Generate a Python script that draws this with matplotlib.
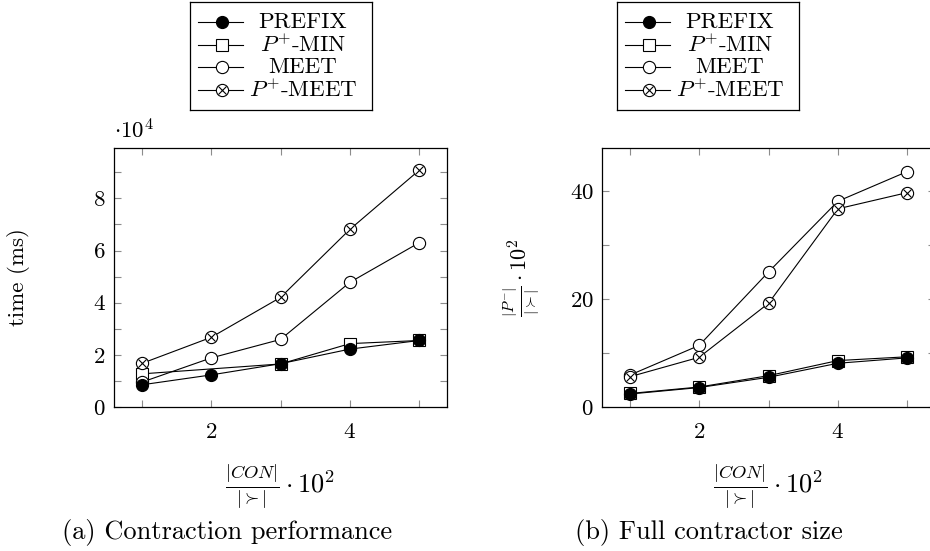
#!/usr/bin/env python3
"""Contraction performance and full contractor size, two panels side by side."""

import matplotlib

matplotlib.use("Agg")
import matplotlib.pyplot as plt
from matplotlib.ticker import FixedLocator, NullFormatter

plt.rcParams["font.family"] = "serif"
plt.rcParams["font.serif"] = ["cmr10"]
plt.rcParams["mathtext.fontset"] = "cm"
plt.rcParams["axes.formatter.use_mathtext"] = True

X = [1, 2, 3, 4, 5]
X_MIN = [1, 3, 4, 5]  # P+-MIN has no point at 2 in panel (a)

# panel (a): time in units of 10^4 ms
TIME_PREFIX = [0.85, 1.23, 1.66, 2.22, 2.55]
TIME_PMIN = [1.27, 1.65, 2.43, 2.55]
TIME_MEET = [0.95, 1.88, 2.59, 4.78, 6.3]
TIME_PMEET = [1.67, 2.67, 4.2, 6.81, 9.08]

# panel (b): |P-|/|>| * 10^2
SIZE_PREFIX = [2.4, 3.6, 5.5, 8.1, 9.1]
SIZE_PMIN = [2.5, 3.7, 5.8, 8.6, 9.3]
SIZE_MEET = [5.9, 11.4, 25.0, 38.1, 43.6]
SIZE_PMEET = [5.6, 9.2, 19.2, 36.7, 39.7]

LABELS = ["PREFIX", "$P^{+}$-MIN", "MEET", "$P^{+}$-MEET"]
KINDS = ["filled", "square", "circle", "otimes"]

FS = 16.5


def draw_series(ax, x, y, kind, zorder):
    common = dict(color="black", lw=0.8, zorder=zorder)
    if kind == "filled":
        ax.plot(x, y, marker="o", ms=8.5, mfc="black", mec="black", **common)
    elif kind == "square":
        ax.plot(x, y, marker="s", ms=8.2, mfc="white", mec="black", mew=0.8, **common)
    elif kind == "circle":
        ax.plot(x, y, marker="o", ms=8.8, mfc="white", mec="black", mew=0.8, **common)
    else:
        ax.plot(x, y, marker="o", ms=8.8, mfc="white", mec="black", mew=0.8, **common)
        ax.plot(x, y, ls="none", marker="x", ms=6.2, mec="black", mew=0.8, zorder=zorder)


def style_axes(ax, ymajor, yminor, ylim):
    ax.set_xlim(0.6, 5.4)
    ax.set_ylim(*ylim)
    ax.xaxis.set_major_locator(FixedLocator([2, 4]))
    ax.xaxis.set_minor_locator(FixedLocator([1, 3, 5]))
    ax.xaxis.set_minor_formatter(NullFormatter())
    ax.yaxis.set_major_locator(FixedLocator(ymajor))
    ax.yaxis.set_minor_locator(FixedLocator(yminor))
    ax.yaxis.set_minor_formatter(NullFormatter())
    ax.tick_params(which="both", direction="in", top=True, right=True, length=5,
                   width=0.8, color="0.55", labelsize=FS, pad=6)
    ax.tick_params(axis="x", which="both", pad=11)
    for sp in ax.spines.values():
        sp.set_linewidth(0.9)


def draw_legend(fig, left_px):
    lax = fig.add_axes([left_px / 930, 1 - 110 / 551, 182 / 930, 108 / 551])
    lax.set_xlim(0, 1)
    lax.set_ylim(3.89, -0.89)
    lax.set_xticks([])
    lax.set_yticks([])
    for sp in lax.spines.values():
        sp.set_linewidth(0.9)
    for i, (lab, kind) in enumerate(zip(LABELS, KINDS)):
        lax.plot([0.044, 0.29], [i, i], color="black", lw=0.8)
        draw_series(lax, [0.176], [i], kind, 3)
        lax.text(0.62, i, lab, ha="center", va="center", fontsize=FS)


fig = plt.figure(figsize=(9.3, 5.51), dpi=100)

ax1 = fig.add_axes([114 / 930, 1 - 407 / 551, 333 / 930, 259 / 551])
draw_series(ax1, X_MIN, TIME_PMIN, "square", 2)
draw_series(ax1, X, TIME_MEET, "circle", 3)
draw_series(ax1, X, TIME_PMEET, "otimes", 4)
draw_series(ax1, X, TIME_PREFIX, "filled", 5)
style_axes(ax1, [0, 2, 4, 6, 8], [1, 3, 5, 7, 9], (0, 9.93))
ax1.set_ylabel("time (ms)", fontsize=FS, labelpad=45)
ax1.text(0.0, 1.02, r"$\cdot 10^4$", transform=ax1.transAxes, fontsize=FS, va="bottom")
ax1.set_xlabel(r"$\frac{|CON|}{|\succ|}\cdot 10^2$", fontsize=19, labelpad=15)

ax2 = fig.add_axes([602 / 930, 1 - 407 / 551, 333 / 930, 259 / 551])
draw_series(ax2, X, SIZE_PMIN, "square", 2)
draw_series(ax2, X, SIZE_MEET, "circle", 3)
draw_series(ax2, X, SIZE_PMEET, "otimes", 4)
draw_series(ax2, X, SIZE_PREFIX, "filled", 5)
style_axes(ax2, [0, 20, 40], [10, 30], (0, 47.96))
ax2.set_ylabel(r"$\frac{|P^{-}|}{|\succ|}\cdot 10^2$", fontsize=16, labelpad=21)
ax2.set_xlabel(r"$\frac{|CON|}{|\succ|}\cdot 10^2$", fontsize=19, labelpad=15)

draw_legend(fig, 190)
draw_legend(fig, 617)

fig.text(227 / 930, 1 - 533 / 551, "(a) Contraction performance", ha="center", va="center",
         fontsize=19)
fig.text(709 / 930, 1 - 533 / 551, "(b) Full contractor size", ha="center", va="center",
         fontsize=19)

fig.savefig("out.png", dpi=100)
